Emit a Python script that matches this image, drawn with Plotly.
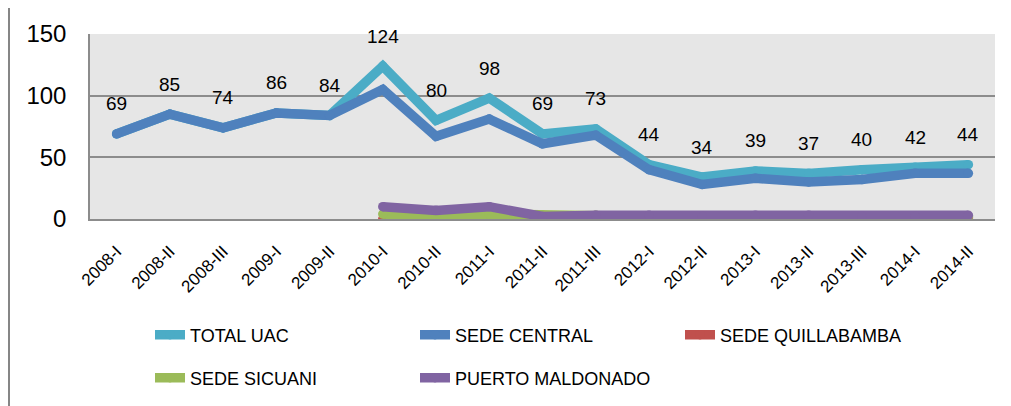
import plotly.graph_objects as go

categories = ["2008-I", "2008-II", "2008-III", "2009-I", "2009-II", "2010-I", "2010-II",
              "2011-I", "2011-II", "2011-III", "2012-I", "2012-II", "2013-I", "2013-II",
              "2013-III", "2014-I", "2014-II"]
total_uac = [69, 85, 74, 86, 84, 124, 80, 98, 69, 73, 44, 34, 39, 37, 40, 42, 44]
sede_central = [69, 85, 74, 86, 84, 105, 67, 81, 61, 68, 40, 28, 33, 30, 32, 37, 37]
sede_quillabamba = [None, None, None, None, None, 0, 0, 0, 1, 1, 2, 1, 1, 1, 1, 1, 1]
sede_sicuani = [None, None, None, None, None, 4, 2, 4, 3, 3, 2, 2, 2, 2, 2, 2, 2]
puerto_maldonado = [None, None, None, None, None, 10, 7, 10, 2, 3, 3, 2, 3, 3, 2, 2, 3]

series = [
    ("TOTAL UAC", total_uac, "#4BACC6", "legend"),
    ("SEDE CENTRAL", sede_central, "#4F81BD", "legend"),
    ("SEDE QUILLABAMBA", sede_quillabamba, "#C0504D", "legend"),
    ("SEDE SICUANI", sede_sicuani, "#9BBB59", "legend2"),
    ("PUERTO MALDONADO", puerto_maldonado, "#8064A2", "legend2"),
]

NUM_FONT = "Liberation Sans, Arial, sans-serif"
TXT_FONT = "Liberation Sans, Arial, sans-serif"
GRID = "#8C8C8C"

fig = go.Figure()
for name, vals, color, leg in series:
    fig.add_trace(go.Scatter(
        x=categories, y=vals, name=name, mode="lines+markers",
        line=dict(color=color, width=9.5),
        marker=dict(color=color, size=9.5, line=dict(width=0)),
        legend=leg, connectgaps=False,
    ))

for c, v in zip(categories, total_uac):
    fig.add_annotation(x=c, y=v, text=str(v), showarrow=False, yshift=30,
                       font=dict(family=NUM_FONT, size=19, color="#000000"))

# page has an 8px body margin: figure is offset by OFF px
OFF = 8
W, H = 1011 - OFF, 406 - OFF
ml, mr, mt, mb = 82, 16, 26, 187
pw, ph = W - ml - mr, H - mt - mb

def px_x(X):
    return (X - OFF - ml) / pw

def px_y(Y):
    return (H - mb - (Y - OFF)) / ph

# outer chart frame (top and left edges visible)
fig.add_shape(type="line", xref="paper", yref="paper",
              x0=px_x(9), x1=px_x(1020), y0=px_y(5), y1=px_y(5),
              line=dict(color="#868686", width=2))
fig.add_shape(type="line", xref="paper", yref="paper",
              x0=px_x(9), x1=px_x(9), y0=px_y(4), y1=px_y(420),
              line=dict(color="#868686", width=2))

leg_common = dict(orientation="h", xanchor="left", yanchor="middle",
                  entrywidth=220, entrywidthmode="pixels", itemwidth=30,
                  font=dict(family=TXT_FONT, size=18, color="#000000"),
                  bgcolor="rgba(0,0,0,0)", traceorder="normal")

fig.update_layout(
    width=W, height=H,
    margin=dict(l=ml, r=mr, t=mt, b=mb, autoexpand=False),
    paper_bgcolor="white",
    plot_bgcolor="#E6E6E6",
    template="none",
    showlegend=True,
    legend=dict(x=px_x(150), y=px_y(335), **leg_common),
    legend2=dict(x=px_x(150), y=px_y(378), **leg_common),
    xaxis=dict(type="category", range=[-0.5, len(categories) - 0.5],
               showgrid=False, showline=True, linecolor=GRID, linewidth=1.5,
               ticks="", tickangle=-45, ticklabelstandoff=14,
               tickfont=dict(family=TXT_FONT, size=17, color="#000000"),
               zeroline=False, fixedrange=True),
    yaxis=dict(range=[0, 150], tickvals=[0, 50, 100, 150],
               showgrid=True, gridcolor=GRID, gridwidth=1.5,
               showline=True, linecolor=GRID, linewidth=1.5,
               zeroline=False, ticks="", ticklabelstandoff=17,
               tickfont=dict(family=NUM_FONT, size=24, color="#000000"),
               fixedrange=True),
)

fig.write_html("out.html")
